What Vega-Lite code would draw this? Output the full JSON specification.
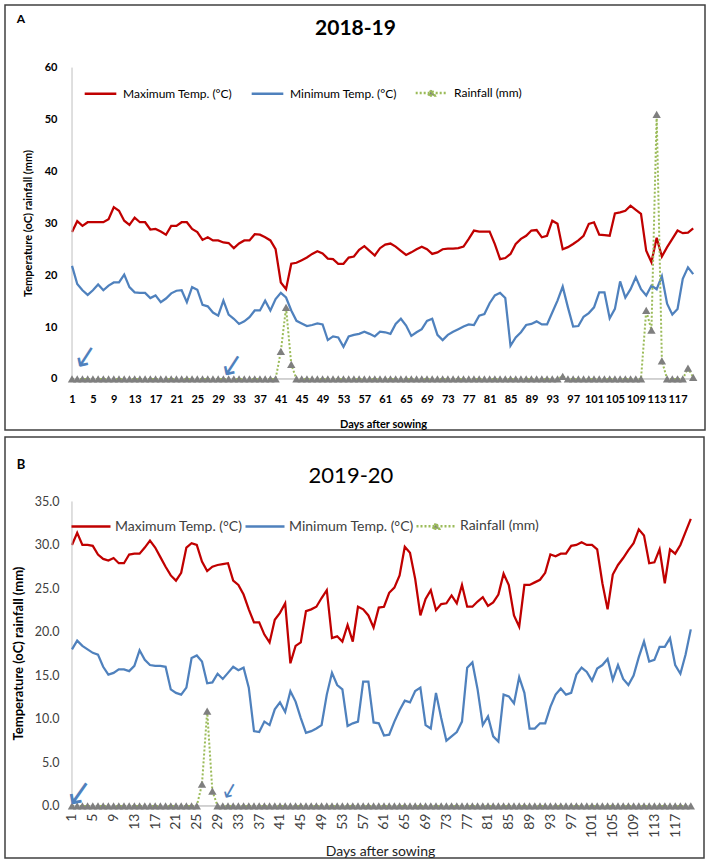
{
  "$schema": "https://vega.github.io/schema/vega-lite/v6.json",
  "padding": {"left": 4, "top": 4, "right": 4, "bottom": 4},
  "spacing": 5,
  "background": "white",
  "config": {"font": "Lato", "view": {"stroke": "#404040", "strokeWidth": 1.5}, "axis": {"labelOverlap": false}},
  "resolve": {"scale": {"color": "independent"}, "legend": {"color": "independent"}},
  "datasets": {
    "a": [
      {"d":1,"max":28.3,"min":21.8,"rain":0},{"d":2,"max":30.4,"min":18.3,"rain":0},{"d":3,"max":29.5,"min":17.1,"rain":0},{"d":4,"max":30.2,"min":16.2,"rain":0},{"d":5,"max":30.2,"min":17.1,"rain":0},
      {"d":6,"max":30.2,"min":18.2,"rain":0},{"d":7,"max":30.2,"min":17.1,"rain":0},{"d":8,"max":30.8,"min":18.0,"rain":0},{"d":9,"max":33.1,"min":18.6,"rain":0},{"d":10,"max":32.4,"min":18.6,"rain":0},
      {"d":11,"max":30.5,"min":20.1,"rain":0},{"d":12,"max":29.7,"min":17.7,"rain":0},{"d":13,"max":31.1,"min":16.7,"rain":0},{"d":14,"max":30.2,"min":16.6,"rain":0},{"d":15,"max":30.2,"min":16.6,"rain":0},
      {"d":16,"max":28.8,"min":15.6,"rain":0},{"d":17,"max":28.9,"min":16.1,"rain":0},{"d":18,"max":28.4,"min":14.8,"rain":0},{"d":19,"max":27.8,"min":15.5,"rain":0},{"d":20,"max":29.5,"min":16.5,"rain":0},
      {"d":21,"max":29.5,"min":17.0,"rain":0},{"d":22,"max":30.2,"min":17.1,"rain":0},{"d":23,"max":30.2,"min":14.8,"rain":0},{"d":24,"max":28.9,"min":17.7,"rain":0},{"d":25,"max":28.3,"min":17.2,"rain":0},
      {"d":26,"max":26.8,"min":14.3,"rain":0},{"d":27,"max":27.3,"min":14.0,"rain":0},{"d":28,"max":26.7,"min":12.8,"rain":0},{"d":29,"max":26.7,"min":12.2,"rain":0},{"d":30,"max":26.3,"min":15.1,"rain":0},
      {"d":31,"max":26.2,"min":12.4,"rain":0},{"d":32,"max":25.2,"min":11.6,"rain":0},{"d":33,"max":26.1,"min":10.6,"rain":0},{"d":34,"max":26.7,"min":11.1,"rain":0},{"d":35,"max":26.7,"min":11.9,"rain":0},
      {"d":36,"max":27.9,"min":13.2,"rain":0},{"d":37,"max":27.8,"min":13.2,"rain":0},{"d":38,"max":27.3,"min":15.1,"rain":0},{"d":39,"max":26.7,"min":13.2,"rain":0},{"d":40,"max":25.0,"min":15.4,"rain":0},
      {"d":41,"max":18.6,"min":16.6,"rain":5.3},{"d":42,"max":17.3,"min":15.7,"rain":13.8},{"d":43,"max":22.2,"min":13.2,"rain":2.8},{"d":44,"max":22.4,"min":11.2,"rain":0},{"d":45,"max":22.9,"min":10.7,"rain":0},
      {"d":46,"max":23.4,"min":10.2,"rain":0},{"d":47,"max":24.1,"min":10.4,"rain":0},{"d":48,"max":24.6,"min":10.7,"rain":0},{"d":49,"max":24.2,"min":10.5,"rain":0},{"d":50,"max":23.2,"min":7.5,"rain":0},
      {"d":51,"max":23.1,"min":8.2,"rain":0},{"d":52,"max":22.2,"min":8.0,"rain":0},{"d":53,"max":22.2,"min":6.2,"rain":0},{"d":54,"max":23.4,"min":8.2,"rain":0},{"d":55,"max":23.6,"min":8.5,"rain":0},
      {"d":56,"max":24.9,"min":8.7,"rain":0},{"d":57,"max":25.6,"min":9.1,"rain":0},{"d":58,"max":24.7,"min":8.7,"rain":0},{"d":59,"max":23.8,"min":8.2,"rain":0},{"d":60,"max":25.2,"min":9.1,"rain":0},
      {"d":61,"max":25.9,"min":9.0,"rain":0},{"d":62,"max":26.1,"min":8.7,"rain":0},{"d":63,"max":25.5,"min":10.6,"rain":0},{"d":64,"max":24.7,"min":11.6,"rain":0},{"d":65,"max":23.9,"min":10.3,"rain":0},
      {"d":66,"max":24.4,"min":8.3,"rain":0},{"d":67,"max":25.0,"min":9.0,"rain":0},{"d":68,"max":25.5,"min":9.6,"rain":0},{"d":69,"max":25.0,"min":11.2,"rain":0},{"d":70,"max":24.1,"min":11.6,"rain":0},
      {"d":71,"max":24.4,"min":8.5,"rain":0},{"d":72,"max":25.0,"min":7.5,"rain":0},{"d":73,"max":25.1,"min":8.5,"rain":0},{"d":74,"max":25.1,"min":9.1,"rain":0},{"d":75,"max":25.2,"min":9.6,"rain":0},
      {"d":76,"max":25.5,"min":10.1,"rain":0},{"d":77,"max":27.0,"min":10.5,"rain":0},{"d":78,"max":28.6,"min":10.4,"rain":0},{"d":79,"max":28.4,"min":12.2,"rain":0},{"d":80,"max":28.4,"min":12.5,"rain":0},
      {"d":81,"max":28.4,"min":14.6,"rain":0},{"d":82,"max":26.0,"min":16.1,"rain":0},{"d":83,"max":23.1,"min":16.6,"rain":0},{"d":84,"max":23.3,"min":15.6,"rain":0},{"d":85,"max":24.1,"min":6.4,"rain":0},
      {"d":86,"max":26.0,"min":8.0,"rain":0},{"d":87,"max":27.0,"min":9.0,"rain":0},{"d":88,"max":27.6,"min":10.4,"rain":0},{"d":89,"max":28.6,"min":10.6,"rain":0},{"d":90,"max":28.7,"min":11.1,"rain":0},
      {"d":91,"max":27.3,"min":10.5,"rain":0},{"d":92,"max":27.6,"min":10.5,"rain":0},{"d":93,"max":30.5,"min":12.8,"rain":0},{"d":94,"max":29.9,"min":15.1,"rain":0},{"d":95,"max":25.0,"min":17.8,"rain":0.5},
      {"d":96,"max":25.4,"min":13.8,"rain":0},{"d":97,"max":26.0,"min":10.1,"rain":0},{"d":98,"max":26.7,"min":10.2,"rain":0},{"d":99,"max":27.6,"min":12.0,"rain":0},{"d":100,"max":29.9,"min":12.7,"rain":0},
      {"d":101,"max":30.2,"min":13.8,"rain":0},{"d":102,"max":27.8,"min":16.7,"rain":0},{"d":103,"max":27.7,"min":16.7,"rain":0},{"d":104,"max":27.6,"min":11.7,"rain":0},{"d":105,"max":31.9,"min":13.5,"rain":0},
      {"d":106,"max":32.1,"min":18.8,"rain":0},{"d":107,"max":32.4,"min":15.7,"rain":0},{"d":108,"max":33.4,"min":17.3,"rain":0},{"d":109,"max":32.6,"min":19.6,"rain":0},{"d":110,"max":31.8,"min":17.3,"rain":0},
      {"d":111,"max":24.7,"min":16.1,"rain":13.2},{"d":112,"max":22.5,"min":18.0,"rain":9.4},{"d":113,"max":27.2,"min":17.3,"rain":51.0},{"d":114,"max":23.6,"min":19.8,"rain":3.5},{"d":115,"max":25.4,"min":14.5,"rain":0},
      {"d":116,"max":27.0,"min":12.4,"rain":0},{"d":117,"max":28.6,"min":13.5,"rain":0},{"d":118,"max":28.1,"min":19.3,"rain":0},{"d":119,"max":28.2,"min":21.5,"rain":2.1},{"d":120,"max":29.0,"min":20.2,"rain":0.3}
    ],
    "b": [
      {"d":1,"max":30.0,"min":18.0,"rain":0},{"d":2,"max":31.4,"min":19.0,"rain":0},{"d":3,"max":30.0,"min":18.4,"rain":0},{"d":4,"max":30.0,"min":18.0,"rain":0},{"d":5,"max":29.9,"min":17.6,"rain":0},
      {"d":6,"max":28.9,"min":17.4,"rain":0},{"d":7,"max":28.4,"min":16.0,"rain":0},{"d":8,"max":28.2,"min":15.1,"rain":0},{"d":9,"max":28.5,"min":15.3,"rain":0},{"d":10,"max":27.9,"min":15.7,"rain":0},
      {"d":11,"max":27.9,"min":15.7,"rain":0},{"d":12,"max":28.9,"min":15.5,"rain":0},{"d":13,"max":29.0,"min":16.1,"rain":0},{"d":14,"max":29.0,"min":17.9,"rain":0},{"d":15,"max":29.7,"min":16.8,"rain":0},
      {"d":16,"max":30.5,"min":16.2,"rain":0},{"d":17,"max":29.7,"min":16.1,"rain":0},{"d":18,"max":28.6,"min":16.1,"rain":0},{"d":19,"max":27.5,"min":16.0,"rain":0},{"d":20,"max":26.5,"min":13.4,"rain":0},
      {"d":21,"max":25.9,"min":13.0,"rain":0},{"d":22,"max":26.8,"min":12.8,"rain":0},{"d":23,"max":29.7,"min":13.6,"rain":0},{"d":24,"max":30.2,"min":17.0,"rain":0},{"d":25,"max":30.0,"min":17.3,"rain":0},
      {"d":26,"max":28.1,"min":16.6,"rain":2.5},{"d":27,"max":27.0,"min":14.1,"rain":10.9},{"d":28,"max":27.5,"min":14.2,"rain":1.7},{"d":29,"max":27.7,"min":15.2,"rain":0},{"d":30,"max":27.8,"min":14.6,"rain":0},
      {"d":31,"max":27.9,"min":15.3,"rain":0},{"d":32,"max":25.9,"min":16.0,"rain":0},{"d":33,"max":25.4,"min":15.6,"rain":0},{"d":34,"max":24.3,"min":15.9,"rain":0},{"d":35,"max":22.6,"min":13.6,"rain":0},
      {"d":36,"max":21.1,"min":8.6,"rain":0},{"d":37,"max":21.1,"min":8.5,"rain":0},{"d":38,"max":19.7,"min":9.7,"rain":0},{"d":39,"max":18.8,"min":9.3,"rain":0},{"d":40,"max":21.4,"min":11.1,"rain":0},
      {"d":41,"max":22.2,"min":11.9,"rain":0},{"d":42,"max":23.3,"min":10.8,"rain":0},{"d":43,"max":16.4,"min":13.2,"rain":0},{"d":44,"max":18.4,"min":12.0,"rain":0},{"d":45,"max":18.8,"min":10.1,"rain":0},
      {"d":46,"max":22.4,"min":8.4,"rain":0},{"d":47,"max":22.6,"min":8.6,"rain":0},{"d":48,"max":22.9,"min":8.9,"rain":0},{"d":49,"max":23.9,"min":9.3,"rain":0},{"d":50,"max":24.8,"min":12.8,"rain":0},
      {"d":51,"max":19.3,"min":15.3,"rain":0},{"d":52,"max":19.5,"min":13.9,"rain":0},{"d":53,"max":18.9,"min":13.4,"rain":0},{"d":54,"max":20.8,"min":9.2,"rain":0},{"d":55,"max":18.9,"min":9.5,"rain":0},
      {"d":56,"max":22.9,"min":9.7,"rain":0},{"d":57,"max":22.6,"min":14.3,"rain":0},{"d":58,"max":21.9,"min":14.3,"rain":0},{"d":59,"max":20.5,"min":9.6,"rain":0},{"d":60,"max":22.8,"min":9.5,"rain":0},
      {"d":61,"max":22.9,"min":8.1,"rain":0},{"d":62,"max":24.5,"min":8.2,"rain":0},{"d":63,"max":25.1,"min":9.7,"rain":0},{"d":64,"max":26.5,"min":11.0,"rain":0},{"d":65,"max":29.8,"min":12.1,"rain":0},
      {"d":66,"max":29.1,"min":11.9,"rain":0},{"d":67,"max":26.1,"min":13.2,"rain":0},{"d":68,"max":21.9,"min":13.6,"rain":0},{"d":69,"max":23.8,"min":9.3,"rain":0},{"d":70,"max":24.8,"min":8.9,"rain":0},
      {"d":71,"max":22.5,"min":13.0,"rain":0},{"d":72,"max":23.2,"min":10.1,"rain":0},{"d":73,"max":23.3,"min":7.5,"rain":0},{"d":74,"max":24.2,"min":8.0,"rain":0},{"d":75,"max":23.3,"min":8.5,"rain":0},
      {"d":76,"max":25.4,"min":9.7,"rain":0},{"d":77,"max":22.9,"min":15.9,"rain":0},{"d":78,"max":22.9,"min":16.5,"rain":0},{"d":79,"max":23.5,"min":13.4,"rain":0},{"d":80,"max":24.0,"min":9.3,"rain":0},
      {"d":81,"max":23.0,"min":10.3,"rain":0},{"d":82,"max":23.4,"min":8.0,"rain":0},{"d":83,"max":24.3,"min":7.4,"rain":0},{"d":84,"max":26.7,"min":12.8,"rain":0},{"d":85,"max":25.4,"min":12.6,"rain":0},
      {"d":86,"max":21.9,"min":11.8,"rain":0},{"d":87,"max":20.6,"min":14.8,"rain":0},{"d":88,"max":25.4,"min":13.0,"rain":0},{"d":89,"max":25.4,"min":8.9,"rain":0},{"d":90,"max":25.7,"min":8.9,"rain":0},
      {"d":91,"max":26.0,"min":9.5,"rain":0},{"d":92,"max":26.8,"min":9.5,"rain":0},{"d":93,"max":28.9,"min":11.4,"rain":0},{"d":94,"max":28.7,"min":12.8,"rain":0},{"d":95,"max":29.0,"min":13.5,"rain":0},
      {"d":96,"max":29.0,"min":12.8,"rain":0},{"d":97,"max":29.9,"min":13.0,"rain":0},{"d":98,"max":30.0,"min":15.1,"rain":0},{"d":99,"max":30.3,"min":15.9,"rain":0},{"d":100,"max":30.0,"min":15.4,"rain":0},
      {"d":101,"max":30.0,"min":14.4,"rain":0},{"d":102,"max":29.5,"min":15.8,"rain":0},{"d":103,"max":25.6,"min":16.2,"rain":0},{"d":104,"max":22.6,"min":16.9,"rain":0},{"d":105,"max":26.6,"min":14.5,"rain":0},
      {"d":106,"max":27.7,"min":16.2,"rain":0},{"d":107,"max":28.5,"min":14.6,"rain":0},{"d":108,"max":29.4,"min":13.9,"rain":0},{"d":109,"max":30.2,"min":15.0,"rain":0},{"d":110,"max":31.8,"min":17.1,"rain":0},
      {"d":111,"max":31.1,"min":18.9,"rain":0},{"d":112,"max":27.9,"min":16.6,"rain":0},{"d":113,"max":28.0,"min":16.8,"rain":0},{"d":114,"max":29.5,"min":18.3,"rain":0},{"d":115,"max":25.6,"min":18.3,"rain":0},
      {"d":116,"max":29.5,"min":19.3,"rain":0},{"d":117,"max":29.0,"min":16.2,"rain":0},{"d":118,"max":30.0,"min":15.2,"rain":0},{"d":119,"max":31.5,"min":17.4,"rain":0},{"d":120,"max":33.0,"min":20.3,"rain":0}
    ]
  },
  "vconcat": [
    {
      "width": 700,
      "height": 425,
      "data": {"name": "a"},
      "layer": [
        {
          "mark": {"type": "line", "strokeWidth": 2.25},
          "encoding": {
            "x": {"field": "d", "type": "quantitative", "scale": {"domain": [-11.84, 122.26], "nice": false, "zero": false},
              "axis": {"orient": "bottom", "offset": -51, "values": [1,5,9,13,17,21,25,29,33,37,41,45,49,53,57,61,65,69,73,77,81,85,89,93,97,101,105,109,113,117], "tickCount": 60,
                "domain": false, "ticks": false, "tickSize": 0, "grid": false, "labelFontSize": 11, "labelFontWeight": "bold", "labelColor": "#000", "labelPadding": 14,
                "labelOverlap": false, "labelFlush": false, "labelBound": false,
                "title": "Days after sowing", "titleFontSize": 11, "titleFontWeight": "bold", "titleColor": "#000", "titleX": 378, "titleY": 45, "titleBaseline": "middle", "titleAlign": "center"}},
            "y": {"field": "max", "type": "quantitative", "scale": {"domain": [-9.83, 72.06], "nice": false, "zero": false},
              "axis": {"orient": "left", "offset": -66, "values": [0,10,20,30,40,50,60], "tickCount": 20, "domain": false, "ticks": false, "tickSize": 0, "grid": false,
                "labelFontSize": 11, "labelFontWeight": "bold", "labelColor": "#000", "labelPadding": 14,
                "title": "Temperature (oC) rainfall (mm)", "titleFontSize": 11, "titleFontWeight": "bold", "titleColor": "#000", "titleX": -43, "titleY": 218, "titleAngle": 270, "titleBaseline": "middle", "titleAlign": "center"}},
            "color": {"datum": "Maximum Temp. (°C)", "type": "nominal",
              "scale": {"domain": ["Maximum Temp. (°C)", "Minimum Temp. (°C)", "Rainfall (mm)"], "range": ["#C00000", "#4F81BD", "#9BBB59"]},
              "legend": {"orient": "none", "legendX": 78, "legendY": 70, "direction": "horizontal", "title": null, "padding": 0,
                "symbolType": "stroke", "symbolSize": 1000, "symbolStrokeWidth": 2.5, "labelFontSize": 12, "labelColor": "#000", "labelOffset": 5, "columnPadding": 13,
                "encode": {"symbols": {"update": {
                  "shape": [{"test": "datum.value === 'Rainfall (mm)'", "value": "M-1,0H1M-0.2,0.17L0,-0.2L0.2,0.17Z"}, {"value": "stroke"}],
                  "strokeDash": [{"test": "datum.value === 'Rainfall (mm)'", "value": [2, 2]}, {"value": []}],
                  "fill": [{"test": "datum.value === 'Rainfall (mm)'", "value": "#7f7f7f"}, {"value": "transparent"}]
                }}}}}
          }
        },
        {
          "data": {"values": [{}]},
          "mark": {"type": "rule", "color": "#bfbfbf", "strokeWidth": 1},
          "encoding": {
            "x": {"datum": 1, "type": "quantitative", "scale": {"domain": [-11.84, 122.26], "nice": false, "zero": false}},
            "y": {"datum": 0, "type": "quantitative", "scale": {"domain": [-9.83, 72.06], "nice": false, "zero": false}},
            "y2": {"datum": 60}
          }
        },
        {
          "data": {"values": [{}]},
          "mark": {"type": "rule", "color": "#a6a6a6", "strokeWidth": 1},
          "encoding": {
            "x": {"datum": 1, "type": "quantitative", "scale": {"domain": [-11.84, 122.26], "nice": false, "zero": false}},
            "x2": {"datum": 120},
            "y": {"datum": 0, "type": "quantitative", "scale": {"domain": [-9.83, 72.06], "nice": false, "zero": false}}
          }
        },
        {
          "mark": {"type": "line", "strokeWidth": 2.25},
          "encoding": {
            "x": {"field": "d", "type": "quantitative", "scale": {"domain": [-11.84, 122.26], "nice": false, "zero": false}},
            "y": {"field": "min", "type": "quantitative", "scale": {"domain": [-9.83, 72.06], "nice": false, "zero": false}},
            "color": {"datum": "Minimum Temp. (°C)", "type": "nominal", "legend": null}
          }
        },
        {
          "mark": {"type": "line", "strokeWidth": 2, "strokeDash": [2, 2]},
          "encoding": {
            "x": {"field": "d", "type": "quantitative", "scale": {"domain": [-11.84, 122.26], "nice": false, "zero": false}},
            "y": {"field": "rain", "type": "quantitative", "scale": {"domain": [-9.83, 72.06], "nice": false, "zero": false}},
            "color": {"datum": "Rainfall (mm)", "type": "nominal", "legend": null}
          }
        },
        {
          "mark": {"type": "point", "shape": "triangle-up", "filled": true, "color": "#7f7f7f", "size": 70, "opacity": 1},
          "encoding": {
            "x": {"field": "d", "type": "quantitative", "scale": {"domain": [-11.84, 122.26], "nice": false, "zero": false}},
            "y": {"field": "rain", "type": "quantitative", "scale": {"domain": [-9.83, 72.06], "nice": false, "zero": false}}
          }
        },
        {
          "data": {"values": [{"t": "↙", "day": 3.6, "v": 4.2}, {"t": "↙", "day": 31.7, "v": 2.6}]},
          "mark": {"type": "text", "font": "DejaVu Sans", "fontSize": 30, "color": "#4F81BD", "angle": 348, "align": "center", "baseline": "middle"},
          "encoding": {
            "x": {"field": "day", "type": "quantitative", "scale": {"domain": [-11.84, 122.26], "nice": false, "zero": false}},
            "y": {"field": "v", "type": "quantitative", "scale": {"domain": [-9.83, 72.06], "nice": false, "zero": false}},
            "text": {"field": "t"}
          }
        },
        {
          "data": {"values": [{"t": "A"}]},
          "mark": {"type": "text", "fontSize": 12, "fontWeight": "bold", "color": "#000", "align": "center", "baseline": "middle"},
          "encoding": {
            "x": {"datum": -8.8, "type": "quantitative", "scale": {"domain": [-11.84, 122.26], "nice": false, "zero": false}},
            "y": {"datum": 69.4, "type": "quantitative", "scale": {"domain": [-9.83, 72.06], "nice": false, "zero": false}},
            "text": {"field": "t"}
          }
        },
        {
          "data": {"values": [{"t": "2018-19"}]},
          "mark": {"type": "text", "fontSize": 21, "fontWeight": "bold", "color": "#000", "align": "center", "baseline": "middle"},
          "encoding": {
            "x": {"datum": 55.3, "type": "quantitative", "scale": {"domain": [-11.84, 122.26], "nice": false, "zero": false}},
            "y": {"datum": 67.4, "type": "quantitative", "scale": {"domain": [-9.83, 72.06], "nice": false, "zero": false}},
            "text": {"field": "t"}
          }
        }
      ]
    },
    {
      "width": 699,
      "height": 421,
      "data": {"name": "b"},
      "layer": [
        {
          "mark": {"type": "line", "strokeWidth": 2.25},
          "encoding": {
            "x": {"field": "d", "type": "quantitative", "scale": {"domain": [-11.88, 122.54], "nice": false, "zero": false},
              "axis": {"orient": "bottom", "offset": -52, "values": [1,5,9,13,17,21,25,29,33,37,41,45,49,53,57,61,65,69,73,77,81,85,89,93,97,101,105,109,113,117], "tickCount": 60,
                "domain": false, "ticks": false, "tickSize": 0, "grid": false, "labelFontSize": 14, "labelColor": "#404040", "labelPadding": 7, "labelAngle": -90, "labelAlign": "right", "labelBaseline": "middle",
                "labelOverlap": false, "labelFlush": false, "labelBound": false,
                "title": "Days after sowing", "titleFontSize": 14, "titleFontWeight": "normal", "titleColor": "#222", "titleX": 375, "titleY": 45, "titleBaseline": "middle", "titleAlign": "center"}},
            "y": {"field": "max", "type": "quantitative", "scale": {"domain": [-5.98, 42.41], "nice": false, "zero": false},
              "axis": {"orient": "left", "offset": -66, "values": [0,5,10,15,20,25,30,35], "tickCount": 20, "format": ".1f", "domain": false, "ticks": false, "tickSize": 0, "grid": false,
                "labelFontSize": 12.5, "labelColor": "#404040", "labelPadding": 12,
                "title": "Temperature (oC) rainfall (mm)", "titleFontSize": 13, "titleFontWeight": "bold", "titleColor": "#000", "titleX": -52.5, "titleY": 216, "titleAngle": 270, "titleBaseline": "middle", "titleAlign": "center"}},
            "color": {"datum": "Maximum Temp. (°C)", "type": "nominal",
              "scale": {"domain": ["Maximum Temp. (°C)", "Minimum Temp. (°C)", "Rainfall (mm)"], "range": ["#C00000", "#4F81BD", "#9BBB59"]},
              "legend": {"orient": "none", "legendX": 65, "legendY": 68, "direction": "horizontal", "title": null, "padding": 0,
                "symbolType": "stroke", "symbolSize": 1521, "symbolStrokeWidth": 2.5, "labelFontSize": 14, "labelColor": "#404040", "labelOffset": 3, "columnPadding": -3,
                "encode": {"symbols": {"update": {
                  "shape": [{"test": "datum.value === 'Rainfall (mm)'", "value": "M-1,0H1M-0.16,0.14L0,-0.16L0.16,0.14Z"}, {"value": "stroke"}],
                  "strokeDash": [{"test": "datum.value === 'Rainfall (mm)'", "value": [2, 2]}, {"value": []}],
                  "fill": [{"test": "datum.value === 'Rainfall (mm)'", "value": "#7f7f7f"}, {"value": "transparent"}]
                }}}}}
          }
        },
        {
          "data": {"values": [{}]},
          "mark": {"type": "rule", "color": "#bfbfbf", "strokeWidth": 1},
          "encoding": {
            "x": {"datum": 1, "type": "quantitative", "scale": {"domain": [-11.88, 122.54], "nice": false, "zero": false}},
            "y": {"datum": 0, "type": "quantitative", "scale": {"domain": [-5.98, 42.41], "nice": false, "zero": false}},
            "y2": {"datum": 35}
          }
        },
        {
          "data": {"values": [{}]},
          "mark": {"type": "rule", "color": "#a6a6a6", "strokeWidth": 1},
          "encoding": {
            "x": {"datum": 1, "type": "quantitative", "scale": {"domain": [-11.88, 122.54], "nice": false, "zero": false}},
            "x2": {"datum": 120},
            "y": {"datum": 0, "type": "quantitative", "scale": {"domain": [-5.98, 42.41], "nice": false, "zero": false}}
          }
        },
        {
          "mark": {"type": "line", "strokeWidth": 2.25},
          "encoding": {
            "x": {"field": "d", "type": "quantitative", "scale": {"domain": [-11.88, 122.54], "nice": false, "zero": false}},
            "y": {"field": "min", "type": "quantitative", "scale": {"domain": [-5.98, 42.41], "nice": false, "zero": false}},
            "color": {"datum": "Minimum Temp. (°C)", "type": "nominal", "legend": null}
          }
        },
        {
          "mark": {"type": "line", "strokeWidth": 2, "strokeDash": [2, 2]},
          "encoding": {
            "x": {"field": "d", "type": "quantitative", "scale": {"domain": [-11.88, 122.54], "nice": false, "zero": false}},
            "y": {"field": "rain", "type": "quantitative", "scale": {"domain": [-5.98, 42.41], "nice": false, "zero": false}},
            "color": {"datum": "Rainfall (mm)", "type": "nominal", "legend": null}
          }
        },
        {
          "mark": {"type": "point", "shape": "triangle-up", "filled": true, "color": "#7f7f7f", "size": 70, "opacity": 1},
          "encoding": {
            "x": {"field": "d", "type": "quantitative", "scale": {"domain": [-11.88, 122.54], "nice": false, "zero": false}},
            "y": {"field": "rain", "type": "quantitative", "scale": {"domain": [-5.98, 42.41], "nice": false, "zero": false}}
          }
        },
        {
          "data": {"values": [{"t": "↙", "day": 2.4, "v": 1.4}]},
          "mark": {"type": "text", "font": "DejaVu Sans", "fontSize": 34, "color": "#4F81BD", "angle": 350, "align": "center", "baseline": "middle"},
          "encoding": {
            "x": {"field": "day", "type": "quantitative", "scale": {"domain": [-11.88, 122.54], "nice": false, "zero": false}},
            "y": {"field": "v", "type": "quantitative", "scale": {"domain": [-5.98, 42.41], "nice": false, "zero": false}},
            "text": {"field": "t"}
          }
        },
        {
          "data": {"values": [{"t": "↙", "day": 31.4, "v": 1.7}]},
          "mark": {"type": "text", "font": "DejaVu Sans", "fontSize": 21, "color": "#4F81BD", "angle": 345, "align": "center", "baseline": "middle"},
          "encoding": {
            "x": {"field": "day", "type": "quantitative", "scale": {"domain": [-11.88, 122.54], "nice": false, "zero": false}},
            "y": {"field": "v", "type": "quantitative", "scale": {"domain": [-5.98, 42.41], "nice": false, "zero": false}},
            "text": {"field": "t"}
          }
        },
        {
          "data": {"values": [{"t": "B"}]},
          "mark": {"type": "text", "fontSize": 13, "fontWeight": "bold", "color": "#000", "align": "center", "baseline": "middle"},
          "encoding": {
            "x": {"datum": -8.8, "type": "quantitative", "scale": {"domain": [-11.88, 122.54], "nice": false, "zero": false}},
            "y": {"datum": 39.2, "type": "quantitative", "scale": {"domain": [-5.98, 42.41], "nice": false, "zero": false}},
            "text": {"field": "t"}
          }
        },
        {
          "data": {"values": [{"t": "2019-20"}]},
          "mark": {"type": "text", "fontSize": 22, "color": "#000", "align": "center", "baseline": "middle"},
          "encoding": {
            "x": {"datum": 54.65, "type": "quantitative", "scale": {"domain": [-11.88, 122.54], "nice": false, "zero": false}},
            "y": {"datum": 37.9, "type": "quantitative", "scale": {"domain": [-5.98, 42.41], "nice": false, "zero": false}},
            "text": {"field": "t"}
          }
        }
      ]
    }
  ]
}
